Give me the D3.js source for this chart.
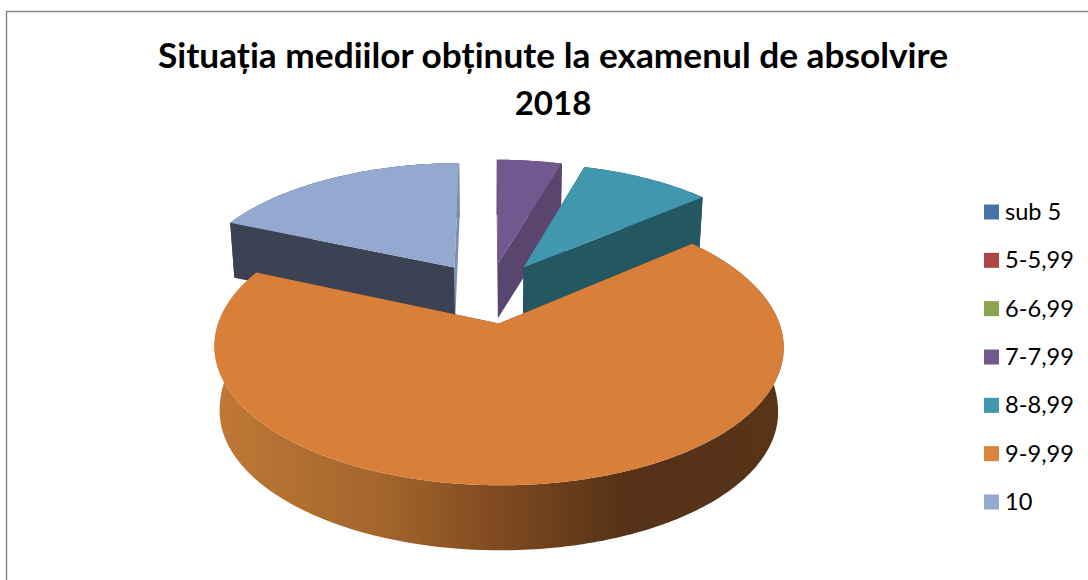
<!DOCTYPE html>
<html lang="en">
<head>
<meta charset="UTF-8">
<title>Situația mediilor</title>
<style>
    html, body { margin: 0; padding: 0; background: #fff; overflow: hidden; }
    svg { display: block; }
    text { font-family: Lato, sans-serif; fill: #000; }
</style>
</head>
<body>
<svg id="chart" width="1088" height="580"></svg>
<script src="https://cdnjs.cloudflare.com/ajax/libs/d3/7.8.5/d3.min.js"></script>
<script>
"use strict"

const titleLines = ["Situația mediilor obținute la examenul de absolvire", "2018"];
const categories = ["sub 5", "5-5,99", "6-6,99", "7-7,99", "8-8,99", "9-9,99", "10"];
const counts = [0, 0, 0, 5, 10, 73, 20];
const legendColors = ["#4573A7", "#AA4643", "#89A54E", "#71588F", "#4198AF", "#DB843D", "#93A9CF"];
const faceColors = ["#4573A7", "#AA4643", "#89A54E", "#71588F", "#4097AE", "#D8803A", "#93A9CF"];
const sideColors = ["#2A4564", "#662A28", "#52632F", "#59456E", "#235762", "url(#rim)", "#3C4254"];

const svg = d3.select("#chart");

// frame
svg.append("path")
    .attr("d", "M6.5,580V11.5H1088")
    .attr("fill", "none")
    .attr("stroke", "#868686")
    .attr("stroke-width", 1.5);

// title
svg.selectAll("text.title")
    .data(titleLines)
    .enter().append("text")
    .attr("class", "title")
    .attr("x", 553)
    .attr("y", (d, i) => 68 + i * 47)
    .attr("text-anchor", "middle")
    .attr("font-weight", "bold")
    .attr("font-size", (d, i) => i ? 33 : 35.25)
    .text(d => d);

// perspective camera for the tilted disc
const cx = 489, cy = 292.3, sx = 270, sy = 127;
const perspX = 0.16, perspY = 0.15, drop = 0.018, explode = 0.24;
// the wall is taller on the near side of the disc
const thickness = d3.scaleLinear().domain([-0.4, 0.2]).range([65, 55]).clamp(true);

function project(x, y, lower) {
    const wx = 1 + perspX * y + (lower ? drop : 0);
    const wy = 1 + perspY * y;
    return [cx + sx * x / wx, cy - sy * y / wy + (lower ? thickness(y) : 0)];
}

const color = d3.scaleOrdinal().domain(categories).range(faceColors);
const swatch = d3.scaleOrdinal().domain(categories).range(legendColors);
const side = d3.scaleOrdinal().domain(categories).range(sideColors);
const pie = d3.pie().sort(null).value((d, i) => counts[i]);
const line = d3.line();

const defs = svg.append("defs");
const rim = defs.append("linearGradient")
    .attr("id", "rim")
    .attr("gradientUnits", "userSpaceOnUse")
    .attr("x1", 214).attr("x2", 784).attr("y1", 0).attr("y2", 0);
[[0, "#C07836"], [0.3, "#A2652C"], [0.5, "#7F4A20"], [0.72, "#553217"], [1, "#583419"]]
    .forEach(s => rim.append("stop").attr("offset", s[0]).attr("stop-color", s[1]));

const slices = pie(categories)
    .filter(d => d.value > 0)
    .map(d => {
        const mid = (d.startAngle + d.endAngle) / 2;
        return Object.assign(d, { ox: explode * Math.sin(mid), oy: explode * Math.cos(mid) });
    })
    .sort((a, b) => b.oy - a.oy); // far slices first

function rimAngles(d) {
    const n = Math.ceil((d.endAngle - d.startAngle) * 60);
    return d3.range(n + 1).map(i => d.startAngle + (d.endAngle - d.startAngle) * i / n);
}

function outer(d, a, lower) {
    return project(d.ox + Math.sin(a), d.oy + Math.cos(a), lower);
}

// walls seen almost edge-on catch the light
function wallFill(d, a) {
    if (d.data === "9-9,99") return "#553217";
    if (a === 2 * Math.PI) return "#7C8FB0";
    return side(d.data);
}

const pieces = svg.append("g").selectAll("g")
    .data(slices)
    .enter().append("g");

// outer rim
pieces.append("path")
    .attr("fill", d => side(d.data))
    .attr("d", d => {
        const as = rimAngles(d);
        return line(as.map(a => outer(d, a, false)).concat(as.reverse().map(a => outer(d, a, true)))) + "Z";
    });

// radial walls
pieces.selectAll("path.wall")
    .data(d => [[d, d.startAngle], [d, d.endAngle]])
    .enter().append("path")
    .attr("class", "wall")
    .attr("fill", d => wallFill(d[0], d[1]))
    .attr("d", ([d, a]) => line([
        project(d.ox, d.oy, false),
        outer(d, a, false),
        outer(d, a, true),
        project(d.ox, d.oy, true)
    ]) + "Z");

// top face
pieces.append("path")
    .attr("fill", d => color(d.data))
    .attr("d", d => line([project(d.ox, d.oy, false)].concat(rimAngles(d).map(a => outer(d, a, false)))) + "Z");

// legend
const legendY = d3.scalePoint().domain(categories).range([212, 502]);
const legend = svg.append("g").selectAll("g")
    .data(categories)
    .enter().append("g")
    .attr("transform", d => `translate(984,${legendY(d)})`);

legend.append("rect")
    .attr("y", -7.5)
    .attr("width", 15)
    .attr("height", 15)
    .attr("fill", d => swatch(d));

legend.append("text")
    .attr("x", 21)
    .attr("y", 8)
    .attr("font-size", 23.6)
    .text(d => d);
</script>
</body>
</html>
